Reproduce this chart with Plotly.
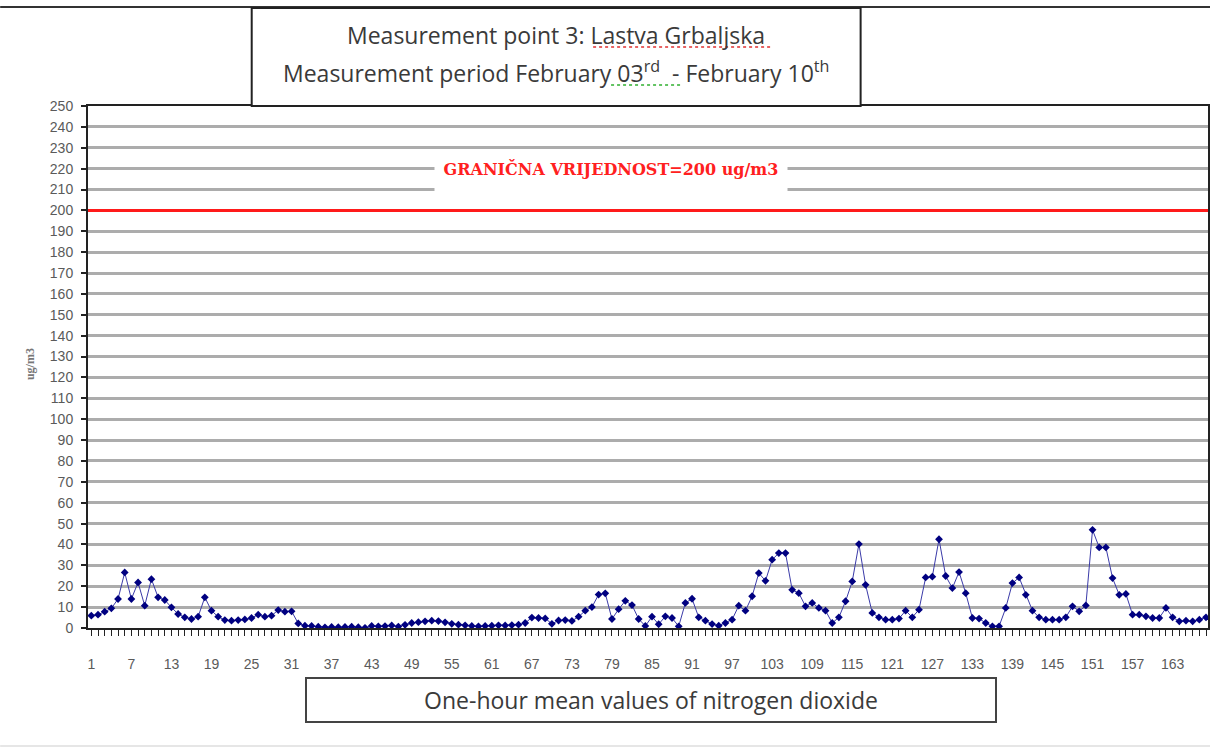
import plotly.graph_objects as go

# one-hour mean NO2 values (ug/m3), one list per day, Feb 03 - Feb 09
day1 = [5.9, 6.4, 7.8, 9.4, 13.9, 26.6, 13.9, 21.8, 10.7, 23.4, 14.7, 13.4,
        9.9, 6.7, 5.1, 4.3, 5.4, 14.7, 8.3, 5.4, 3.8, 3.5, 3.8, 4.1]
day2 = [4.8, 6.4, 5.4, 5.9, 8.6, 7.8, 8.0, 2.2, 1.1, 1.0, 0.6, 0.3,
        0.5, 0.4, 0.5, 0.6, 0.4, 0.1, 1.0, 0.8, 0.9, 1.2, 0.7, 1.5]
day3 = [2.4, 2.8, 3.2, 3.5, 3.3, 2.7, 2.0, 1.6, 1.3, 1.0, 0.8, 1.0,
        1.1, 1.3, 1.2, 1.4, 1.6, 2.4, 5.0, 4.8, 4.6, 2.0, 3.6, 3.8]
day4 = [3.4, 5.4, 8.3, 10.0, 16.0, 16.6, 4.3, 9.0, 13.0, 11.0, 4.3, 1.0,
        5.4, 1.8, 5.6, 4.8, 0.8, 12.0, 14.0, 5.1, 3.5, 1.9, 1.1, 2.4]
day5 = [4.0, 10.7, 8.3, 15.2, 26.3, 22.6, 32.7, 35.9, 35.9, 18.3, 16.7, 10.4,
        12.0, 9.6, 8.3, 2.4, 5.1, 12.8, 22.3, 40.2, 20.7, 7.2, 5.1, 4.0]
day6 = [4.0, 4.5, 8.3, 5.1, 8.8, 24.2, 24.6, 42.5, 24.9, 19.1, 26.8, 16.7,
        4.8, 4.5, 2.4, 0.8, 0.8, 9.6, 21.5, 24.2, 15.9, 8.3, 5.1, 4.0]
day7 = [4.0, 4.0, 5.1, 10.4, 8.0, 10.8, 47.0, 38.6, 38.6, 23.9, 15.9, 16.3,
        6.4, 6.4, 5.6, 4.8, 4.8, 9.6, 5.1, 3.2, 3.5, 3.2, 4.0, 5.1]

values = day1 + day2 + day3 + day4 + day5 + day6 + day7
hours = list(range(1, len(values) + 1))
# label every 6th hour, tick every hour
tick_text = [str(h) if (h - 1) % 6 == 0 else '' for h in hours]
limit_value = 200

W, H = 1212, 751
L, R, T, B = 88, 2, 106, 123
pw, ph = W - L - R, H - T - B


def px(x):
    return (x - L) / pw


def py(y):
    return (H - B - y) / ph


fig = go.Figure()

fig.add_trace(go.Scatter(
    x=hours, y=values, mode='lines+markers',
    line=dict(color='#3a3aa8', width=1),
    marker=dict(symbol='diamond', size=6, color='#000080'),
    showlegend=False
))

fig.add_hline(y=limit_value, line=dict(color='#ff1a1a', width=3), layer='above')

grey = '#5a5a5a'
fig.update_layout(
    width=W, height=H,
    margin=dict(l=L, r=R, t=T, b=B),
    paper_bgcolor='white', plot_bgcolor='white',
    xaxis=dict(
        range=[0.5, len(values) + 0.3],
        tickmode='array', tickvals=hours, ticktext=tick_text,
        ticks='outside', ticklen=6, tickcolor='#222', tickwidth=1,
        showgrid=False, zeroline=False,
        showline=True, linecolor='#222', linewidth=2, mirror=True,
        tickfont=dict(family='Liberation Sans', size=14, color=grey),
        ticklabelstandoff=16,
    ),
    yaxis=dict(
        range=[0, 250], dtick=10,
        ticks='outside', ticklen=5, tickcolor='#222', tickwidth=2,
        showgrid=True, gridcolor='#acacac', gridwidth=3, zeroline=False,
        showline=True, linecolor='#222', linewidth=2, mirror=True,
        tickfont=dict(family='Liberation Sans', size=14, color=grey),
        ticklabelstandoff=5,
    ),
    font=dict(family='Open Sans', color='#333'),
)

# limit label on a white patch
fig.add_annotation(
    xref='paper', yref='paper', x=px(612), y=py(176),
    text='GRANIČNA VRIJEDNOST=200 ug/m3', showarrow=False,
    font=dict(family='DejaVu Serif', size=16, color='#ff2020', weight='bold'),
    bgcolor='white', width=350, height=34, valign='top', yanchor='middle'
)

# y axis title
fig.add_annotation(
    xref='paper', yref='paper', x=px(21), y=py(364), textangle=-90,
    text='<b>ug/m3</b>', showarrow=False,
    font=dict(family='Liberation Serif', size=12, color='#777')
)

# title box
fig.add_shape(type='line', xref='paper', yref='paper', x0=px(0), x1=px(W), y0=py(7), y1=py(7),
              line=dict(color='#333', width=2))
fig.add_shape(type='rect', xref='paper', yref='paper', x0=px(252), x1=px(862), y0=py(106), y1=py(8),
              line=dict(color='#222', width=2), fillcolor='white')
fig.add_annotation(xref='paper', yref='paper', x=px(557), y=py(35), yanchor='middle',
                   text='Measurement point 3: Lastva Grbaljska', showarrow=False,
                   font=dict(size=23, color='#3a3a3a'))
fig.add_annotation(xref='paper', yref='paper', x=px(557), y=py(72), yanchor='middle',
                   text='Measurement period February 03<sup>rd</sup>  - February 10<sup>th</sup>',
                   showarrow=False, font=dict(size=23, color='#3a3a3a'))
# spell-check underlines
fig.add_shape(type='line', xref='paper', yref='paper', x0=px(594), x1=px(773), y0=py(47), y1=py(47),
              line=dict(color='#e03030', width=1.5, dash='dot'))
fig.add_shape(type='line', xref='paper', yref='paper', x0=px(612), x1=px(684), y0=py(85), y1=py(85),
              line=dict(color='#30b030', width=1.5, dash='dot'))

# x axis caption box
fig.add_annotation(xref='paper', yref='paper', x=px(652), y=py(700), yanchor='middle',
                   text='One-hour mean values of nitrogen dioxide', showarrow=False,
                   font=dict(size=23, color='#3a3a3a'),
                   width=686, height=40, bordercolor='#444', borderwidth=2, bgcolor='white')

fig.add_shape(type='line', xref='paper', yref='paper', x0=px(0), x1=px(W), y0=py(746), y1=py(746),
              line=dict(color='#e6e6e6', width=2))

fig.write_html("out.html", config={'displayModeBar': False},
               post_script="document.body.style.margin='0px';")
